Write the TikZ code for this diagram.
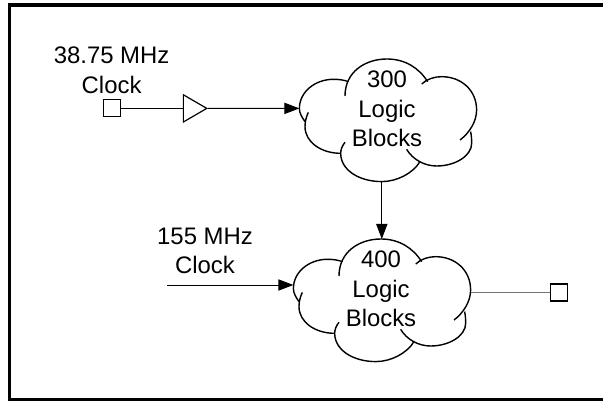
\documentclass[tikz,border=0pt]{standalone}
\usepackage{fontspec}
\setmainfont{Liberation Sans}
\usetikzlibrary{arrows.meta, positioning, shapes.geometric}
\tikzset{
    pad/.style={rectangle, draw=black, fill=white, line width=.85pt, inner sep=0pt, minimum size=.425cm},
    buffer/.style={isosceles triangle, isosceles triangle apex angle=60, isosceles triangle stretches, draw=black, line width=.85pt, inner sep=0pt, minimum width=.68cm, minimum height=.585cm},
    caption/.style={align=center, inner sep=0pt, font=\fontsize{17}{21}\selectfont},
    wire/.style={line width=.7pt},
    feed/.style={wire, -{Triangle[length=.375cm, width=.28cm]}},
    logic cloud/.pic={
        \draw[line width=1pt] (-1.05,.6) .. controls (-1.05,1.2) and (-.55,1.525) .. (0,1.525) .. controls (.45,1.525) and (.8,1.3) .. (1.017,.958);
        \draw[line width=1pt] (.867,.9) .. controls (1,1.03) and (1.2,1.083) .. (1.367,1.083) .. controls (1.85,1.083) and (2.24,.75) .. (2.24,.25) .. controls (2.24,-.05) and (2.05,-.33) .. (1.825,-.5);
        \draw[line width=1pt] (2.09,-.29) .. controls (2.11,-.38) and (2.117,-.48) .. (2.117,-.583) .. controls (2.117,-.9) and (1.7,-1.15) .. (1.24,-1.15) .. controls (.95,-1.15) and (.65,-1) .. (.49,-.733);
        \draw[line width=1pt] (.825,-1.04) .. controls (.65,-1.33) and (.25,-1.54) .. (-.13,-1.54) .. controls (-.7,-1.54) and (-1.158,-1.25) .. (-1.158,-.833) .. controls (-1.158,-.74) and (-1.12,-.64) .. (-1.05,-.558);
        \draw[line width=1pt] (-1.158,-.833) .. controls (-1.65,-.833) and (-2.05,-.55) .. (-2.05,-.167) .. controls (-2.05,-.04) and (-2.02,.08) .. (-1.967,.19);
        \draw[line width=1pt] (-2.05,-.04) .. controls (-2.13,.07) and (-2.19,.17) .. (-2.19,.29) .. controls (-2.19,.7) and (-1.8,1.017) .. (-1.34,1.017) .. controls (-1.2,1.017) and (-1.07,1) .. (-.967,.958);
        \coordinate (-north) at (0,1.525);
        \coordinate (-south) at (-.13,-1.54);
        \coordinate (-east) at (2.24,.25);
        \coordinate (-west) at (-2.19,.29);
        \node[caption] (-text) at (0,.28) {#1};
    },
}
\begin{document}
\begin{tikzpicture}
    \useasboundingbox (0,0) rectangle (15.075,10.025);
    % frame runs off the right and bottom of the page
    \draw[line width=2.5pt] (15.075,9.905) -- (.2375,9.905) -- (.2375,.03) -- (15.075,.03);

    \node[caption] (fastlabel) at (2.79,8.27) {38.75 MHz\\Clock};
    \node[pad] (clockin) at (2.79,7.315) {};
    \node[buffer] (buf) at (4.78,7.315) {};

    \pic (upper) at (9.675,7.025) {logic cloud={300\\Logic\\Blocks}};
    \pic (lower) at (9.525,2.525) {logic cloud={400\\Logic\\Blocks}};

    \node[caption] (slowlabel) at (5.125,3.75) {155 MHz\\Clock};
    \coordinate (slowin) at (4.175,2.9);
    \node[pad] (dataout) at (13.97,2.71) {};

    \draw[wire] (clockin) -- (buf.west);
    \draw[feed] (buf.east) -- (upper-west);
    \draw[feed] (upper-south) -- (upper-south |- lower-north);
    \draw[feed] (slowin) -- (slowin -| lower-west);
    \draw[line width=.85pt, black!55] (dataout -| lower-east) -- (dataout);
\end{tikzpicture}
\end{document}
